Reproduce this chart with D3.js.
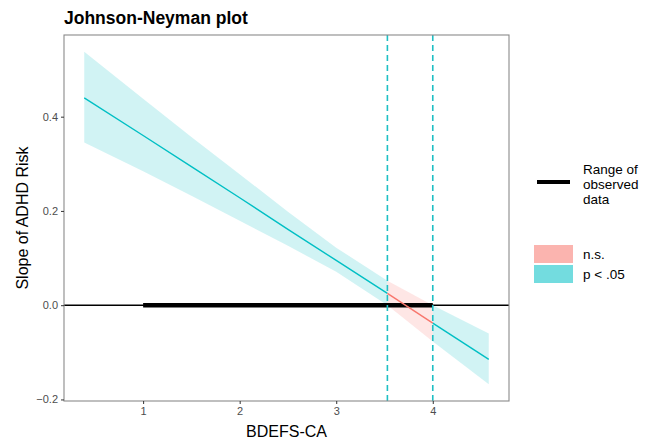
<!DOCTYPE html>
<html>
<head>
<meta charset="utf-8">
<script src="https://cdn.jsdelivr.net/npm/d3@7"></script>
<style>
  body { margin: 0; background: #fff; }
  svg { font-family: "Liberation Sans", Arial, Helvetica, sans-serif; }
</style>
</head>
<body>
<svg id="chart" width="651" height="441"></svg>
<script>
// moderator values and slope estimates
const modValues = [0.39, 1, 1.5, 2, 2.5, 3, 3.53, 4, 4.58];
const slopeValues = [0.44, 0.36, 0.294, 0.228, 0.161, 0.095, 0.025, -0.038, -0.115];
const lowerValues = [0.345, 0.284, 0.232, 0.179, 0.126, 0.071, 0.0, -0.077, -0.168];
const upperValues = [0.538, 0.438, 0.357, 0.278, 0.198, 0.122, 0.052, 0.0, -0.06];

// Johnson-Neyman bounds and observed range of the moderator
const jnBounds = [3.53, 4.0];
const observedRange = [1, 4];
const xTicks = [1, 2, 3, 4];
const yTicks = [-0.2, 0.0, 0.2, 0.4];

const colors = { sig: "#00BFC4", ns: "#F8766D" };

const svg = d3.select("#chart");
const margin = { top: 35, right: 142, bottom: 40, left: 64 };
const width = 651 - margin.left - margin.right;
const height = 441 - margin.top - margin.bottom;

const data = modValues.map((m, i) => ({
  mod: m,
  slope: slopeValues[i],
  lower: lowerValues[i],
  upper: upperValues[i],
}));

// ggplot style 5% expansion
const xExt = d3.extent(modValues);
const xPad = (xExt[1] - xExt[0]) * 0.05;
const yExt = [d3.min(lowerValues), d3.max(upperValues)];
const yPad = (yExt[1] - yExt[0]) * 0.05;

const x = d3.scaleLinear().domain([xExt[0] - xPad, xExt[1] + xPad]).range([0, width]);
const y = d3.scaleLinear().domain([yExt[0] - yPad, yExt[1] + yPad]).range([height, 0]);

const g = svg.append("g").attr("transform", `translate(${margin.left},${margin.top})`);

// split into significant / non-significant segments
const segments = [
  { key: "sig", rows: data.filter((d) => d.mod <= jnBounds[0]) },
  { key: "ns", rows: data.filter((d) => d.mod >= jnBounds[0] && d.mod <= jnBounds[1]) },
  { key: "sig", rows: data.filter((d) => d.mod >= jnBounds[1]) },
];

const area = d3.area()
  .x((d) => x(d.mod))
  .y0((d) => y(d.lower))
  .y1((d) => y(d.upper));

const line = d3.line()
  .x((d) => x(d.mod))
  .y((d) => y(d.slope));

g.selectAll("path.band")
  .data(segments)
  .join("path")
  .attr("class", "band")
  .attr("d", (d) => area(d.rows))
  .attr("fill", (d) => colors[d.key])
  .attr("fill-opacity", 0.18);

// zero line
g.append("line")
  .attr("x1", 0).attr("x2", width)
  .attr("y1", y(0)).attr("y2", y(0))
  .attr("stroke", "#000").attr("stroke-width", 1.4);

// observed range
g.append("line")
  .attr("x1", x(observedRange[0])).attr("x2", x(observedRange[1]))
  .attr("y1", y(0)).attr("y2", y(0))
  .attr("stroke", "#000").attr("stroke-width", 4.5);

g.selectAll("path.slope")
  .data(segments)
  .join("path")
  .attr("class", "slope")
  .attr("d", (d) => line(d.rows))
  .attr("fill", "none")
  .attr("stroke", (d) => colors[d.key])
  .attr("stroke-width", 1.4);

// JN bound dashed lines
g.selectAll("line.jn")
  .data(jnBounds)
  .join("line")
  .attr("class", "jn")
  .attr("x1", (d) => x(d)).attr("x2", (d) => x(d))
  .attr("y1", 0).attr("y2", height)
  .attr("stroke", "#1FBFC4")
  .attr("stroke-width", 1.6)
  .attr("stroke-dasharray", "6,4");

// panel border
g.append("rect")
  .attr("width", width).attr("height", height)
  .attr("fill", "none")
  .attr("stroke", "#8a8a8a")
  .attr("stroke-width", 1.1);

// axes
const xAxis = g.append("g")
  .attr("transform", `translate(0,${height})`)
  .call(d3.axisBottom(x).tickValues(xTicks).tickFormat(d3.format("d")).tickSize(3).tickPadding(3));
const yAxis = g.append("g")
  .call(d3.axisLeft(y).tickValues(yTicks).tickFormat(d3.format(".1f")).tickSize(3).tickPadding(3));

[xAxis, yAxis].forEach((ax) => {
  ax.select(".domain").remove();
  ax.selectAll(".tick line").attr("stroke", "#333").attr("stroke-width", 1);
  ax.selectAll(".tick text")
    .attr("fill", "#4d4d4d")
    .attr("font-size", 11)
    .attr("font-family", "Liberation Sans, Arial, sans-serif");
});

// titles
svg.append("text")
  .attr("x", margin.left)
  .attr("y", 24)
  .attr("font-size", 17.5)
  .attr("font-weight", "bold")
  .attr("fill", "#000")
  .text("Johnson-Neyman plot");

svg.append("text")
  .attr("x", margin.left + width / 2)
  .attr("y", 437)
  .attr("text-anchor", "middle")
  .attr("font-size", 16)
  .attr("fill", "#000")
  .text("BDEFS-CA");

svg.append("text")
  .attr("transform", `translate(28,${margin.top + height / 2}) rotate(-90)`)
  .attr("text-anchor", "middle")
  .attr("font-size", 16)
  .attr("fill", "#000")
  .text("Slope of ADHD Risk");

// legend: observed range
const legend = svg.append("g");
legend.append("line")
  .attr("x1", 537).attr("x2", 570)
  .attr("y1", 182).attr("y2", 182)
  .attr("stroke", "#000").attr("stroke-width", 4);

legend.append("text")
  .attr("x", 583)
  .attr("font-size", 13.5)
  .attr("fill", "#000")
  .selectAll("tspan")
  .data(["Range of", "observed", "data"])
  .join("tspan")
  .attr("x", 583)
  .attr("y", (d, i) => 174 + i * 15)
  .text((d) => d);

// legend: significance
const sigLegend = [
  { key: "ns", label: "n.s." },
  { key: "sig", label: "p < .05" },
];
const items = legend.selectAll("g.item")
  .data(sigLegend)
  .join("g")
  .attr("class", "item")
  .attr("transform", (d, i) => `translate(534,${245 + i * 20})`);

items.append("rect")
  .attr("width", 39).attr("height", 18)
  .attr("fill", (d) => colors[d.key])
  .attr("fill-opacity", 0.55);

items.append("text")
  .attr("x", 49).attr("y", 14)
  .attr("font-size", 13.5)
  .attr("fill", "#000")
  .text((d) => d.label);
</script>
</body>
</html>
